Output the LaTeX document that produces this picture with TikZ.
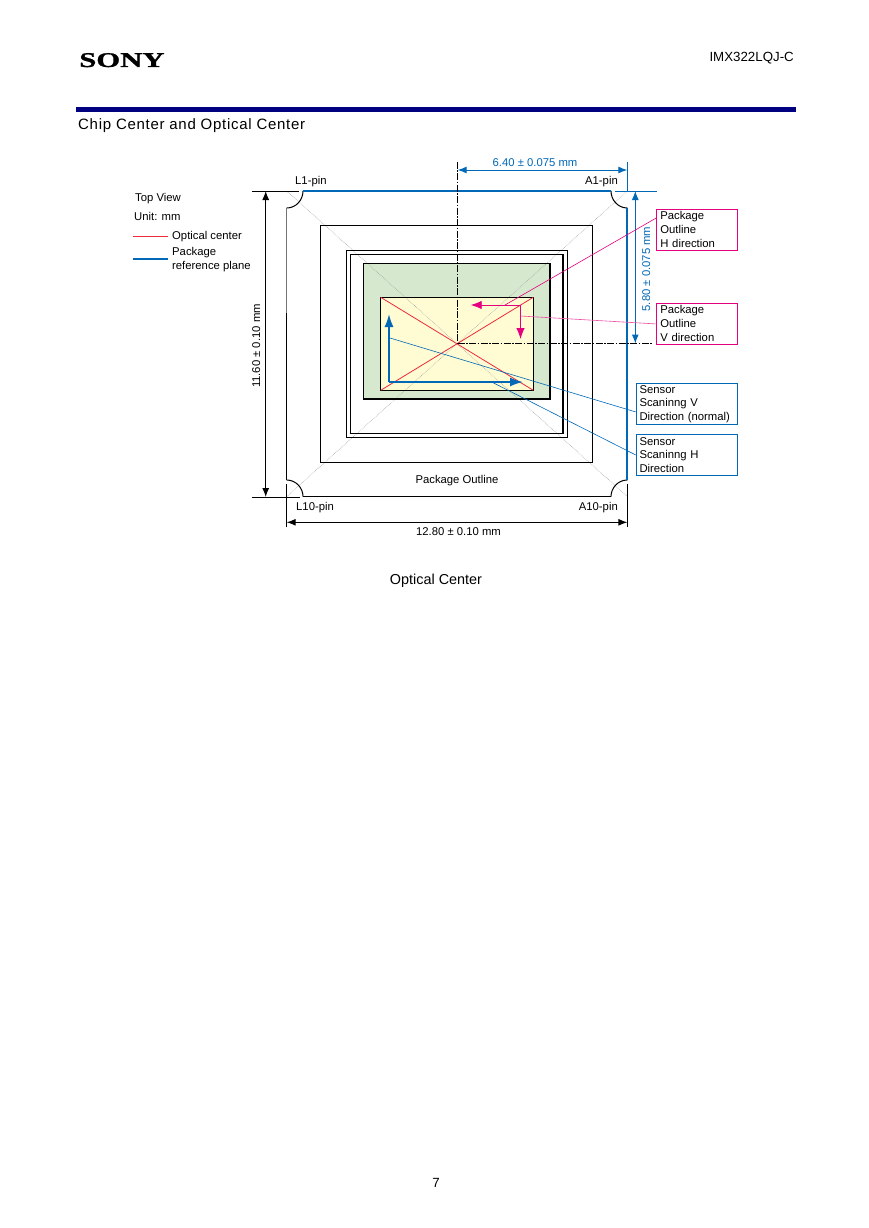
\documentclass[tikz,border=0pt]{standalone}
\usepackage{fontspec}
\setmainfont{Liberation Sans}
\newfontfamily\logofont[BoldFeatures={FakeBold=1}]{Liberation Serif}
\usetikzlibrary{arrows.meta}
\definecolor{refblue}{HTML}{0068B7}
\definecolor{refpink}{HTML}{E4007F}
\definecolor{refred}{HTML}{EE2A3C}
\definecolor{refgreen}{HTML}{D6E8CE}
\definecolor{refyellow}{HTML}{FFFBD2}
\definecolor{refnavy}{HTML}{000080}

\tikzset{
    lbl/.style={inner sep=0pt, anchor=base, font=\fontsize{11.3}{14}\selectfont},
    lblw/.style={lbl, anchor=base west},
    lble/.style={lbl, anchor=base east},
    tagbox/.style={draw, anchor=north west, align=left, inner sep=0pt, text width=74pt, minimum width=81pt, minimum height=41.5pt, line width=1pt, font=\fontsize{11.3}{14}\selectfont},
    scanbox/.style={tagbox, text width=95pt, minimum width=101.6pt, font=\fontsize{11.3}{13.5}\selectfont},
    dim/.style={line width=1pt, {Latex[length=9pt,width=7pt]}-{Latex[length=9pt,width=7pt]}},
    bigtip/.style={-{Latex[length=13pt,width=9pt]}},
    pinktip/.style={-{Latex[length=11pt,width=8.5pt]}},
    thin line/.style={line width=1pt},
    center line/.style={line width=1pt, dash pattern=on 7pt off 1.5pt on 1.5pt off 1.5pt}
}

\begin{document}
\begin{tikzpicture}[x=1pt, y=-1pt]
    \useasboundingbox (0,0) rectangle (868,1228);

    % page head
    \node[lblw, font=\logofont\bfseries\fontsize{21}{21}\selectfont, xscale=1.46] (logo) at (79,67) {SONY};
    \node[lble, font=\fontsize{13.3}{16}\selectfont] (part) at (794,62) {IMX322LQJ-C};
    \fill[refnavy] (76,107.3) rectangle (796,112);
    \node[lblw, font=\fontsize{15}{18}\selectfont\addfontfeature{LetterSpace=4.7}] (title) at (78,129) {Chip Center and Optical Center};

    % corners and center
    \coordinate (ctr) at (457.7,343.5);
    \coordinate (tl) at (286.7,191);
    \coordinate (tr) at (627.3,191);
    \coordinate (bl) at (286.7,496.5);
    \coordinate (br) at (627.3,496.5);

    % die and package rectangles
    \fill[refgreen] (363.7,263.3) rectangle (550.3,399);
    \fill[refyellow] (380.7,297.3) rectangle (533.3,390.3);
    \draw[gray!70, densely dotted, line width=0.6pt] (tl) -- (br);
    \draw[gray!70, densely dotted, line width=0.6pt] (bl) -- (tr);
    \draw[thin line] (320.5,225.7) rectangle (592.3,462.3);
    \draw[thin line] (346.7,250.3) rectangle (567.7,437.3);
    \draw[thin line] (563.3,254.3) -- (350.3,254.3) -- (350.3,433.7) -- (563.3,433.7);
    \draw[line width=1.7pt] (563.3,254) -- (563.3,434);
    \draw[thin line] (550.3,263.3) -- (363.7,263.3) -- (363.7,399);
    \draw[line width=1.7pt] (550.3,263) -- (550.3,399.8) (362.9,399) -- (550.3,399);
    \draw[thin line] (380.7,297.3) rectangle (533.3,390.3);
    \draw[refred, line width=0.8pt] (380.7,297.3) -- (533.3,390.3);
    \draw[refred, line width=0.8pt] (380.7,390.3) -- (533.3,297.3);

    % package outline
    \draw[thin line] (303,191) .. controls (303,200) and (296,208) .. (286.7,208);
    \draw[thin line] (611,191) .. controls (611,200) and (618,208) .. (627.3,208);
    \draw[thin line] (303,496.5) .. controls (303,488) and (296,480) .. (286.7,480);
    \draw[thin line] (611,496.5) .. controls (611,488) and (618,480) .. (627.3,480);
    \draw[black!55, line width=1.2pt] (286.7,208) -- (286.7,313);
    \draw[thin line] (286.7,313) -- (286.7,480);
    \draw[thin line] (303,496.5) -- (611,496.5);
    \draw[refblue, line width=1.9pt] (303,191) -- (611,191);
    \draw[refblue, line width=1.9pt] (627.3,208) -- (627.3,480);

    % center lines
    \draw[center line] (457.7,161.7) -- (ctr);
    \draw[center line] (ctr) -- (652.7,343.5);

    % scanning directions
    \coordinate (scanorg) at (389,382);
    \draw[refblue, line width=1.7pt, bigtip] (scanorg) -- (389,314);
    \draw[refblue, line width=1.7pt, bigtip] (scanorg) -- (523,382);
    \coordinate (pkgorg) at (520.5,305);
    \draw[refpink, line width=0.9pt, pinktip] (pkgorg) -- (470.7,305);
    \draw[refpink, line width=0.9pt, pinktip] (pkgorg) -- (520.5,339);

    % dimensions
    \draw[thin line] (252.3,191) -- (299,191);
    \draw[thin line] (252.3,497) -- (300,497);
    \draw[thin line] (286.7,484) -- (286.7,526.7);
    \draw[thin line] (627.3,484) -- (627.3,527);
    \draw[dim] (265.7,191) -- (265.7,497);
    \draw[dim] (286.7,522.3) -- (627.3,522.3);
    \draw[refblue, thin line] (615,191) -- (656.7,191);
    \draw[refblue, thin line] (627.3,161.7) -- (627.3,191);
    \draw[dim, refblue] (457.7,170) -- (627.3,170);
    \draw[dim, refblue] (635.3,191) -- (635.3,343.5);

    \node[lbl, rotate=90] (dimv) at (260,346) {11.60 ± 0.10 mm};
    \node[lbl] (dimh) at (458.5,535.7) {12.80 ± 0.10 mm};
    \node[lbl, text=refblue] (dimx) at (535,166.7) {6.40 ± 0.075 mm};
    \node[lbl, rotate=90, text=refblue] (dimy) at (650,269) {5.80 ± 0.075 mm};

    % pins
    \node[lblw] (pinl1) at (295,184) {L1-pin};
    \node[lble] (pina1) at (618,184) {A1-pin};
    \node[lblw] (pinl10) at (296,510.5) {L10-pin};
    \node[lble] (pina10) at (618,510.5) {A10-pin};
    \node[lbl] (outline) at (457,483.3) {Package Outline};

    % legend
    \node[lblw] (topview) at (135,201) {Top View};
    \node[lblw] (unit) at (134,220) {Unit: mm};
    \node[lblw] (optc) at (172,239.3) {Optical center};
    \node[lblw] (refp) at (172,255.3) {Package};
    \node[lblw] (refq) at (172,269) {reference plane};
    \draw[refred, line width=0.8pt] (133,236) -- (168,236);
    \draw[refblue, line width=1.7pt] (133,259) -- (168,259);

    % tags with leaders
    \node[tagbox, draw=refpink] (tagh) at (656.3,208.7) {Package\\Outline\\H direction};
    \node[tagbox, draw=refpink] (tagv) at (656.3,302.7) {Package\\Outline\\V direction};
    \node[scanbox, draw=refblue] (scanv) at (635.7,382.7) {Sensor\\Scaninng V\\Direction (normal)};
    \node[scanbox, draw=refblue] (scanh) at (635.7,433.7) {Sensor\\Scaninng H\\Direction};
    \draw[refpink, line width=0.6pt] ([yshift=12pt]tagh.west) -- (505,305);
    \draw[refpink!70, line width=0.6pt] (tagv.west) -- (520.5,316);
    \draw[refblue, line width=0.6pt] ([yshift=-8pt]scanv.west) -- (389,337.7);
    \draw[refblue, line width=0.6pt] (scanh.west) -- (491.7,382);

    % page foot
    \node[lbl, font=\fontsize{14.4}{17}\selectfont] (caption) at (436,584) {Optical Center};
    \node[lbl, font=\fontsize{13.3}{16}\selectfont] (pageno) at (436,1187) {7};
\end{tikzpicture}
\end{document}
